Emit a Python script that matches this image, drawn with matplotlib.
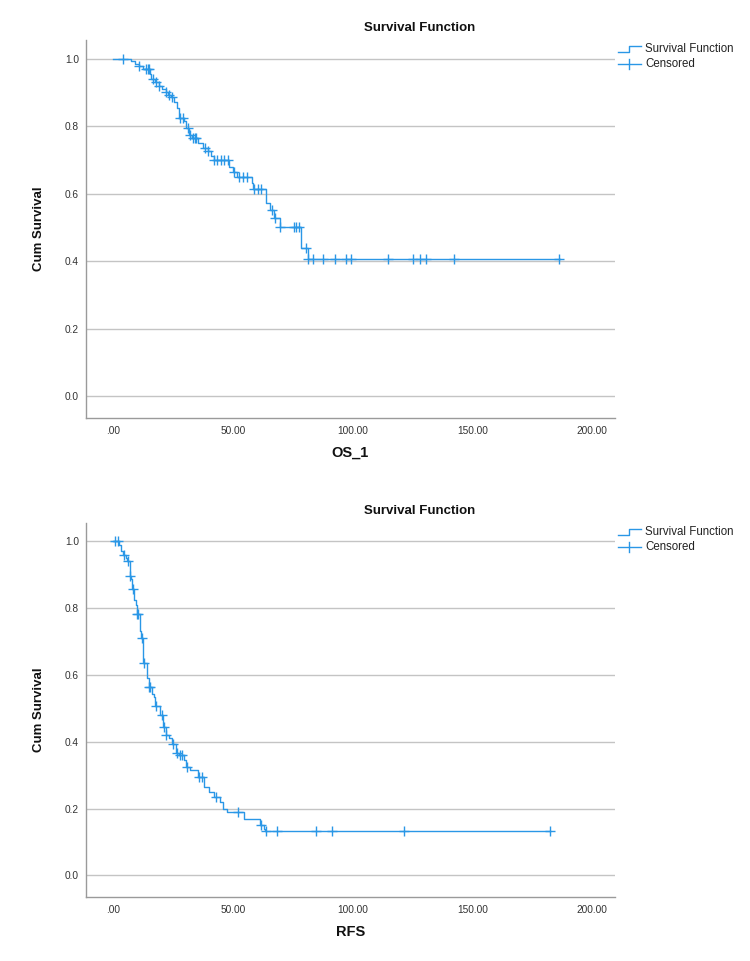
import numpy as np
import matplotlib.pyplot as plt
from matplotlib.lines import Line2D

plt.rcParams['font.family'] = ['Liberation Sans', 'DejaVu Sans']

# ---- OS_1 curve (step corners) ----
os_times = [0, 7.5, 9, 11, 12.5, 15.5, 16, 17.5, 19, 20.5, 22, 23, 24.2, 25.5,
            26.8, 27.5, 29.5, 30.5, 31.8, 33, 35.5, 37.5, 39.5, 41, 42, 48.5,
            50, 51.8, 57.8, 58.5, 63.8, 65.5, 67.2, 69.5, 78.5, 81.2]
os_surv = [1.0, 0.993, 0.985, 0.978, 0.97, 0.955, 0.94, 0.93, 0.92, 0.91, 0.90,
           0.893, 0.885, 0.87, 0.855, 0.825, 0.815, 0.795, 0.775, 0.765, 0.75,
           0.735, 0.725, 0.712, 0.698, 0.68, 0.665, 0.65, 0.632, 0.613, 0.571,
           0.552, 0.527, 0.502, 0.44, 0.405]
os_end = 186.5
os_cens = [4, 11, 13.8, 14.5, 15.1, 16.5, 17.9, 19.3, 22.1, 23.5, 24.4, 28, 29,
           31.1, 32.2, 33.5, 34, 34.6, 38.3, 39.7, 42.2, 43.3, 45, 46.4, 47.8,
           50.3, 52.4, 54.4, 56.1, 58.9, 60.3, 61.7, 66.5, 67.6, 69.6, 75.4, 76.5,
           77.5, 80.6, 81.4, 83.5, 87.8, 92.5, 97.4, 99.4, 114.7, 125.3, 128.3,
           130.7, 142.5, 186.1]

# ---- RFS curve ----
rfs_times = [0, 2.6, 3.3, 4.0, 5.2, 5.8, 7.0, 7.4, 8.0, 8.8, 9.4, 9.8, 11.2, 11.8,
             12.6, 14.2, 14.8, 16.3, 17.0, 17.7, 19.6, 20.8, 21.9, 23.3, 24.5,
             26.3, 27.6, 29.5, 30.5, 32.3, 35.5, 37.8, 39.9, 42.0, 44.8, 46.0,
             47.7, 54.8, 61.3, 62.8, 63.5]
rfs_surv = [1.0, 0.99, 0.97, 0.96, 0.951, 0.94, 0.895, 0.887, 0.858, 0.825, 0.808,
            0.783, 0.732, 0.71, 0.635, 0.592, 0.565, 0.543, 0.535, 0.508, 0.481,
            0.443, 0.421, 0.41, 0.393, 0.366, 0.359, 0.344, 0.324, 0.316, 0.295,
            0.265, 0.25, 0.235, 0.22, 0.2, 0.19, 0.17, 0.15, 0.14, 0.132]
rfs_end = 182.5
rfs_cens = [1.0, 2.0, 4.4, 6.1, 7.1, 8.2, 10, 10.4, 12, 12.8, 15.1, 15.5, 18.0,
            20.3, 21.1, 22.1, 24.9, 26.7, 28.0, 28.6, 30.8, 36, 37, 42.9, 52,
            61.7, 63.75, 68.6, 84.6, 91.5, 121.3, 182.5]

blue = '#2a97e6'
grid_c = '#c4c4c4'
spine_c = '#9a9a9a'


def draw_km(ax, times, surv, end, cens, xlabel):
    t = np.array(times + [end])
    s = np.array(surv + [surv[-1]])
    ax.step(t, s, where='post', color=blue, lw=1.0, zorder=3)
    ct = np.array(cens)
    idx = np.searchsorted(np.array(times), ct, side='right') - 1
    cs = np.array(surv)[idx]
    ax.plot(ct, cs, linestyle='none', marker='+', ms=7, mew=1.0, color=blue, zorder=4)

    ax.set_xlim(-11.3, 209.5)
    ax.set_ylim(-0.065, 1.055)
    ax.set_yticks([0, 0.2, 0.4, 0.6, 0.8, 1.0])
    ax.set_yticklabels(['0.0', '0.2', '0.4', '0.6', '0.8', '1.0'])
    ax.set_xticks([0, 50, 100, 150, 200])
    ax.set_xticklabels(['.00', '50.00', '100.00', '150.00', '200.00'])
    ax.tick_params(length=0, labelsize=7.3, colors='#333333')
    ax.tick_params(axis='y', pad=5)
    ax.tick_params(axis='x', pad=6)
    ax.grid(axis='y', color=grid_c, lw=1.0)
    ax.set_axisbelow(True)
    for side in ['top', 'right']:
        ax.spines[side].set_visible(False)
    for side in ['left', 'bottom']:
        ax.spines[side].set_color(spine_c)
        ax.spines[side].set_linewidth(1.0)
    ax.set_xlabel(xlabel, fontsize=10.5, fontweight='bold', labelpad=7, color='#111111')
    ax.set_ylabel('Cum Survival', fontsize=9.5, fontweight='bold', color='#111111')
    ax.yaxis.set_label_coords(-0.078, 0.5)


W, H = 750, 961
fig = plt.figure(figsize=(7.5, 9.61), dpi=100)


def box(x0, y0, x1, y1):
    return [x0 / W, 1 - y1 / H, (x1 - x0) / W, (y1 - y0) / H]


ax1 = fig.add_axes(box(86, 40, 615, 418))
ax2 = fig.add_axes(box(86, 523, 615, 897))
draw_km(ax1, os_times, os_surv, os_end, os_cens, 'OS_1')
draw_km(ax2, rfs_times, rfs_surv, rfs_end, rfs_cens, 'RFS')

for ytop in [28, 511]:
    fig.text(420 / W, 1 - ytop / H, 'Survival Function', ha='center', va='center',
             fontsize=9.5, fontweight='bold', color='#111111')
    # legend glyphs
    yl1 = ytop + 21
    yl2 = ytop + 36
    fig.add_artist(Line2D([618 / W, 629 / W, 629 / W, 641 / W],
                          [1 - (yl1 + 3) / H, 1 - (yl1 + 3) / H, 1 - (yl1 - 3) / H, 1 - (yl1 - 3) / H],
                          color=blue, lw=1.0))
    fig.add_artist(Line2D([618 / W, 641 / W], [1 - yl2 / H, 1 - yl2 / H], color=blue, lw=1.0))
    fig.add_artist(Line2D([629 / W, 629 / W], [1 - (yl2 - 5) / H, 1 - (yl2 + 5) / H], color=blue, lw=1.0))
    fig.text(645 / W, 1 - yl1 / H, 'Survival Function', ha='left', va='center',
             fontsize=8.3, color='#222222')
    fig.text(645 / W, 1 - yl2 / H, 'Censored', ha='left', va='center',
             fontsize=8.3, color='#222222')

fig.savefig('out.png', dpi=100)
